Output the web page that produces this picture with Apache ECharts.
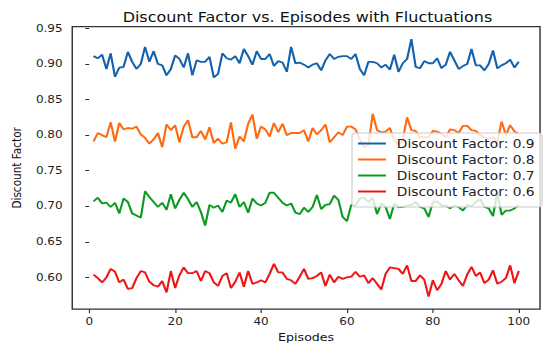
<!DOCTYPE html>
<html>
<head>
<meta charset="utf-8">
<script src="https://cdn.jsdelivr.net/npm/echarts@6/dist/echarts.min.js"></script>
<style>
html,body{margin:0;padding:0;background:#fff;}
#wrap{width:550px;height:348px;overflow:hidden;}
#c{width:458px;height:348px;transform:scaleX(1.20087);transform-origin:0 0;}
</style>
</head>
<body>
<div id="wrap"><div id="c"></div></div>
<script>
const titleText = 'Discount Factor vs. Episodes with Fluctuations';
const xName = 'Episodes';
const yName = 'Discount Factor';
const seriesNames = ['Discount Factor: 0.9','Discount Factor: 0.8','Discount Factor: 0.7','Discount Factor: 0.6'];
const xTicks = [0,20,40,60,80,100];
const yTicks = [0.60,0.65,0.70,0.75,0.80,0.85,0.90,0.95];

const df09 = [0.911,0.908,0.913,0.893,0.915,0.882,0.895,0.896,0.917,0.903,0.893,0.900,0.924,0.903,0.918,0.900,0.898,0.884,0.893,0.912,0.907,0.895,0.915,0.884,0.905,0.903,0.903,0.910,0.881,0.886,0.915,
0.908,0.906,0.911,0.901,0.921,0.911,0.899,0.918,0.907,0.907,0.914,0.897,0.904,0.902,0.889,0.924,0.901,0.902,0.899,0.895,0.899,0.901,0.891,0.905,0.914,0.907,0.910,0.911,0.911,0.907,0.914,0.893,
0.884,0.903,0.903,0.901,0.895,0.899,0.892,0.913,0.889,0.901,0.907,0.935,0.896,0.894,0.904,0.901,0.901,0.908,0.894,0.899,0.917,0.905,0.893,0.897,0.900,0.921,0.898,0.898,0.891,0.900,0.919,0.894,0.898,0.901,0.906,0.895,0.903];

const df08 = [0.791,0.803,0.800,0.797,0.818,0.791,0.817,0.808,0.810,0.809,0.812,0.801,0.796,0.788,0.794,0.803,0.783,0.815,0.807,0.814,0.790,0.812,0.821,0.797,0.797,0.806,0.794,0.811,0.789,0.795,0.788,
0.790,0.818,0.781,0.798,0.791,0.816,0.829,0.795,0.812,0.808,0.798,0.817,0.804,0.816,0.800,0.803,0.803,0.803,0.807,0.791,0.810,0.801,0.807,0.815,0.790,0.797,0.804,0.800,0.812,0.812,0.808,0.794,
0.783,0.786,0.830,0.807,0.804,0.805,0.810,0.793,0.786,0.794,0.825,0.807,0.806,0.797,0.798,0.797,0.806,0.805,0.802,0.797,0.808,0.807,0.803,0.813,0.813,0.807,0.806,0.800,0.797,0.795,0.797,0.790,0.819,0.800,0.814,0.805,0.802];

const df07 = [0.707,0.712,0.704,0.705,0.699,0.705,0.690,0.711,0.706,0.690,0.687,0.684,0.721,0.713,0.706,0.699,0.705,0.695,0.717,0.697,0.709,0.719,0.710,0.699,0.706,0.692,0.673,0.702,0.698,0.701,0.692,
0.708,0.705,0.717,0.699,0.706,0.691,0.711,0.704,0.701,0.705,0.719,0.719,0.712,0.705,0.701,0.704,0.691,0.689,0.698,0.692,0.699,0.716,0.696,0.702,0.703,0.715,0.709,0.685,0.679,0.702,0.701,0.711,
0.712,0.706,0.712,0.689,0.704,0.699,0.682,0.704,0.699,0.699,0.701,0.702,0.706,0.699,0.697,0.685,0.706,0.707,0.701,0.701,0.697,0.701,0.699,0.694,0.702,0.700,0.706,0.710,0.699,0.697,0.686,0.720,0.688,0.694,0.694,0.697,0.702];

const df06 = [0.604,0.599,0.593,0.600,0.612,0.608,0.593,0.597,0.584,0.585,0.599,0.609,0.607,0.594,0.589,0.587,0.595,0.579,0.609,0.585,0.603,0.614,0.606,0.606,0.609,0.595,0.609,0.606,0.593,0.588,0.602,
0.606,0.585,0.594,0.607,0.587,0.609,0.591,0.593,0.596,0.593,0.605,0.619,0.607,0.607,0.598,0.596,0.591,0.601,0.612,0.598,0.599,0.602,0.607,0.588,0.604,0.593,0.601,0.598,0.600,0.601,0.608,0.601,
0.603,0.592,0.599,0.591,0.583,0.605,0.614,0.613,0.612,0.605,0.617,0.595,0.595,0.603,0.597,0.573,0.596,0.582,0.591,0.609,0.597,0.605,0.596,0.588,0.604,0.615,0.602,0.607,0.592,0.597,0.610,0.591,0.594,0.599,0.617,0.592,0.609];

const episodes = df09.map((_, i) => i + 1);
const allSeries = [df09, df08, df07, df06];
const colors = ['#1262ae', '#ff6a10', '#0d9a22', '#f01414'];

const FONT = 'DejaVu Sans';
const chart = echarts.init(document.getElementById('c'), null, {renderer: 'svg'});

chart.setOption({
  animation: false,
  backgroundColor: '#fff',
  title: {
    text: titleText,
    left: 251, top: 6, textAlign: 'center',
    textStyle: {fontFamily: FONT, fontSize: 13.3, fontWeight: 'normal', color: '#111'}
  },
  grid: {
    left: 54.1, right: 8.3, top: 26.6, bottom: 38.7,
    show: true, borderColor: '#333', borderWidth: 1.2, backgroundColor: 'transparent'
  },
  legend: {
    orient: 'vertical',
    left: 293.1, top: 133,
    padding: [4, 6, 9, 5],
    icon: 'rect',
    itemWidth: 23.3, itemHeight: 2, itemGap: 3,
    backgroundColor: 'rgba(255,255,255,0.8)',
    borderColor: '#cccccc', borderWidth: 1, borderRadius: 3,
    textStyle: {fontFamily: FONT, fontSize: 11.5, color: '#222', lineHeight: 13, padding: [0, 0, 0, 4]},
    data: seriesNames
  },
  xAxis: {
    type: 'value', min: -3.95, max: 104.95,
    name: xName, nameLocation: 'middle', nameGap: 22,
    nameTextStyle: {fontFamily: FONT, fontSize: 10.5, color: '#111'},
    axisLine: {show: false},
    axisTick: {show: true, length: 4, customValues: xTicks, lineStyle: {color: '#333'}},
    axisLabel: {customValues: xTicks, fontFamily: FONT, fontSize: 10, color: '#222', margin: 8},
    splitLine: {show: false}
  },
  yAxis: {
    type: 'value', min: 0.5555, max: 0.9525,
    name: yName, nameLocation: 'middle', nameGap: 37,
    nameTextStyle: {fontFamily: FONT, fontSize: 10.5, color: '#111'},
    axisLine: {show: false},
    axisTick: {show: true, length: 3.3, customValues: yTicks, lineStyle: {color: '#333'}},
    axisLabel: {customValues: yTicks, fontFamily: FONT, fontSize: 10, color: '#222', margin: 8,
      formatter: v => v.toFixed(2)},
    splitLine: {show: false}
  },
  series: allSeries.map((arr, k) => ({
    name: seriesNames[k],
    type: 'line',
    symbol: 'none',
    data: arr.map((v, i) => [episodes[i], v]),
    lineStyle: {color: colors[k], width: 1.8},
    itemStyle: {color: colors[k]},
    z: 2
  }))
});
</script>
</body>
</html>
